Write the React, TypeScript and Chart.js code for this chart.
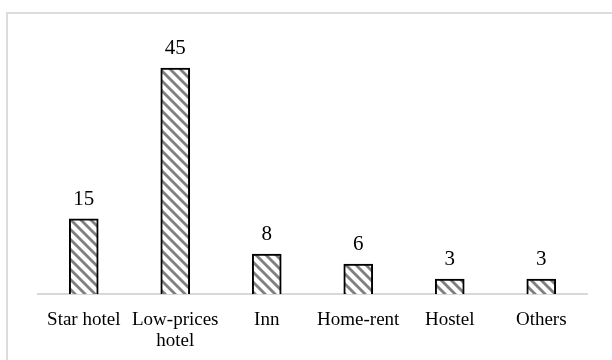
import React, { useEffect, useRef } from "react";
import { Chart, registerables } from "chart.js";

Chart.register(...registerables);

const categories: (string | string[])[] = ["Star hotel", ["Low-prices", "hotel"], "Inn", "Home-rent", "Hostel", "Others"];
const values: number[] = [15, 45, 8, 6, 3, 3];

function makePattern(): CanvasPattern | string {
  const s = 10;
  const c = document.createElement("canvas");
  c.width = s;
  c.height = s;
  const ctx = c.getContext("2d");
  if (!ctx) return "#999";
  const img = ctx.createImageData(s, s);
  for (let y = 0; y < s; y++) {
    for (let x = 0; x < s; x++) {
      const d = (((x - y) % s) + s) % s;
      const i = (y * s + x) * 4;
      let v = 255;
      if (d < 3) v = 128;
      else if (d === 3 || d === s - 1) v = 190;
      img.data[i] = v;
      img.data[i + 1] = v;
      img.data[i + 2] = v;
      img.data[i + 3] = 255;
    }
  }
  ctx.putImageData(img, 0, 0);
  const p = ctx.createPattern(c, "repeat");
  return p || "#999";
}

const labelPlugin = {
  id: "valueLabels",
  afterDatasetsDraw(chart: any) {
    const ctx = chart.ctx;
    const meta = chart.getDatasetMeta(0);
    ctx.save();
    ctx.font = "21px 'Liberation Serif', 'Times New Roman', serif";
    ctx.fillStyle = "#000";
    ctx.textAlign = "center";
    ctx.textBaseline = "alphabetic";
    meta.data.forEach((bar: any, i: number) => {
      ctx.fillText(String(values[i]), bar.x, bar.y - 14);
    });
    ctx.restore();
  },
};

export default function App() {
  const ref = useRef<HTMLCanvasElement>(null);
  useEffect(() => {
    if (!ref.current) return;
    const chart = new Chart(ref.current, {
      type: "bar",
      data: {
        labels: categories,
        datasets: [
          {
            data: values,
            backgroundColor: makePattern() as any,
            borderColor: "#000",
            borderWidth: 2,
            borderSkipped: "bottom",
            barThickness: 29,
          },
        ],
      },
      options: {
        animation: false,
        responsive: false,
        devicePixelRatio: 1,
        layout: { padding: { left: 38, right: 25, top: 43, bottom: 10 } },
        plugins: { legend: { display: false }, tooltip: { enabled: false } },
        scales: {
          x: {
            grid: { display: false, drawTicks: false },
            border: { display: true, color: "#d9d9d9", width: 2 },
            ticks: {
              color: "#000",
              padding: 15,
              maxRotation: 0,
              autoSkip: false,
              font: { family: "'Liberation Serif', 'Times New Roman', serif", size: 19, lineHeight: 1.1 },
            },
          },
          y: {
            display: false,
            min: 0,
            max: 50,
          },
        },
      },
      plugins: [labelPlugin],
    });
    return () => chart.destroy();
  }, []);
  return (
    <div style={{ position: "fixed", left: 0, top: 0, width: 612, height: 360, background: "#fff", overflow: "hidden" }}>
      <div
        style={{
          position: "absolute",
          left: 6,
          top: 12,
          width: 700,
          height: 500,
          borderLeft: "2px solid #dcdcdc",
          borderTop: "2px solid #dcdcdc",
        }}
      />
      <canvas ref={ref} width={612} height={376} style={{ position: "absolute", left: 0, top: 0 }} />
    </div>
  );
}
